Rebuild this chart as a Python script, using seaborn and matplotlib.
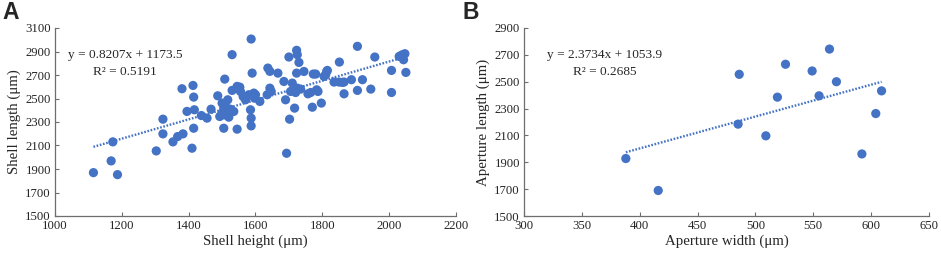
import numpy as np
import pandas as pd
import matplotlib
matplotlib.use("Agg")
import matplotlib.pyplot as plt
import seaborn as sns

# ---- Panel A data ----
shell_height = [1115, 1168, 1187, 1173, 1303, 1323, 1323, 1353, 1367, 1383,
                1380, 1395, 1410, 1413, 1415, 1417, 1415, 1438, 1455, 1467,
                1487, 1508, 1505, 1517, 1500, 1530, 1545, 1545, 1493, 1505,
                1515, 1525, 1520, 1500, 1530, 1555, 1563, 1570, 1580, 1595,
                1600, 1613, 1585, 1587, 1587, 1587, 1590, 1635, 1637, 1643,
                1643, 1647, 1667, 1685, 1690, 1700, 1702, 1693, 1710, 1723,
                1725, 1730, 1723, 1745, 1773, 1780, 1813, 1705, 1715, 1725,
                1735, 1720, 1717, 1757, 1765, 1783, 1787, 1770, 1797, 1851,
                1815, 1810, 1805, 1835, 1850, 1860, 1865, 1887, 1920, 1865,
                1905, 1945, 1905, 1957, 2007, 2007, 2030, 2040, 2047, 2043,
                2050, 2035, 1507, 1523, 1535, 1510, 1597, 1553]
shell_length = [1869, 1969, 1852, 2131, 2054, 2199, 2324, 2131, 2176, 2199,
                2583, 2390, 2077, 2611, 2512, 2404, 2247, 2355, 2333, 2409,
                2523, 2665, 2247, 2489, 2461, 2569, 2603, 2239, 2347, 2418,
                2390, 2409, 2341, 2375, 2873, 2560, 2517, 2489, 2532, 2546,
                2532, 2475, 2404, 2333, 2267, 3006, 2716, 2532, 2759, 2731,
                2588, 2560, 2716, 2645, 2489, 2853, 2324, 2034, 2631, 2910,
                2873, 2807, 2716, 2730, 2708, 2708, 2730, 2560, 2574, 2588,
                2580, 2551, 2418, 2540, 2551, 2574, 2560, 2426, 2461, 2810,
                2739, 2702, 2688, 2640, 2640, 2637, 2640, 2660, 2660, 2540,
                2569, 2580, 2944, 2853, 2739, 2551, 2858, 2873, 2881, 2830,
                2722, 2864, 2361, 2375, 2390, 2438, 2503, 2597]
slope_a, intercept_a, r2_a = 0.8207, 1173.5, 0.5191

# ---- Panel B data ----
aperture_width = [388, 416, 485, 486, 509, 519, 526, 549, 555, 564, 570, 592, 604, 609]
aperture_length = [1928, 1690, 2184, 2555, 2097, 2385, 2630, 2580, 2395, 2743, 2500, 1962, 2263, 2432]
slope_b, intercept_b, r2_b = 2.3734, 1053.9, 0.2685

sns.set_style("ticks")
plt.rcParams['font.family'] = ['Liberation Serif', 'DejaVu Serif']

BLUE = '#4472C4'
AXC = '#6e6e6e'

fig = plt.figure(figsize=(9.41, 2.60), dpi=100)
axA = fig.add_axes([55/941, 1-216/260, (456-55)/941, (216-28)/260])
axB = fig.add_axes([524/941, 1-216/260, (929-524)/941, (216-28)/260])


def panel(ax, x, y, slope, intercept, r2, xlim, xticks, ylim, yticks, xlabel, ylabel, eq_pos):
    df = pd.DataFrame({'x': x, 'y': y})
    sns.scatterplot(data=df, x='x', y='y', ax=ax, color=BLUE, s=44,
                    edgecolor='none', linewidth=0, zorder=3)
    xs = np.array([min(x), max(x)], dtype=float)
    line = pd.DataFrame({'x': xs, 'y': slope * xs + intercept})
    sns.lineplot(data=line, x='x', y='y', ax=ax, color=BLUE, lw=1.7,
                 linestyle=(0, (0.7, 0.7)), dash_capstyle='butt', zorder=2)
    ax.set_xlim(*xlim)
    ax.set_ylim(*ylim)
    ax.set_xticks(xticks)
    ax.set_yticks(yticks)
    ax.set_xlabel(xlabel, fontsize=10.7, labelpad=2)
    ax.set_ylabel(ylabel, fontsize=10.7, labelpad=3)
    ax.tick_params(direction='in', length=3, width=0.8, color=AXC,
                   labelsize=9.2, pad=3)
    for s in ['top', 'right']:
        ax.spines[s].set_visible(False)
    for s in ['left', 'bottom']:
        ax.spines[s].set_color(AXC)
        ax.spines[s].set_linewidth(0.9)
    ax.text(eq_pos[0], eq_pos[1], f"y = {slope:.4f}x + {intercept:.1f}",
            transform=ax.transAxes, fontsize=9.6, ha='center', va='center')
    ax.text(eq_pos[0], eq_pos[1] - 0.09, f"R² = {r2:.4f}",
            transform=ax.transAxes, fontsize=9.6, ha='center', va='center')


panel(axA, shell_height, shell_length, slope_a, intercept_a, r2_a,
      (1000, 2200), [1000, 1200, 1400, 1600, 1800, 2000, 2200],
      (1500, 3100), [1500, 1700, 1900, 2100, 2300, 2500, 2700, 2900, 3100],
      'Shell height (μm)', 'Shell length (μm)', (0.175, 0.855))

panel(axB, aperture_width, aperture_length, slope_b, intercept_b, r2_b,
      (300, 650), [300, 350, 400, 450, 500, 550, 600, 650],
      (1500, 2900), [1500, 1700, 1900, 2100, 2300, 2500, 2700, 2900],
      'Aperture width (μm)', 'Aperture length (μm)', (0.20, 0.855))

fig.text(2/941, 1-1/260, 'A', fontsize=16.5, fontweight='bold',
         family='Liberation Sans', ha='left', va='top')
fig.text(463/941, 1-1/260, 'B', fontsize=16.5, fontweight='bold',
         family='Liberation Sans', ha='left', va='top')

fig.savefig('out.png', dpi=100)
